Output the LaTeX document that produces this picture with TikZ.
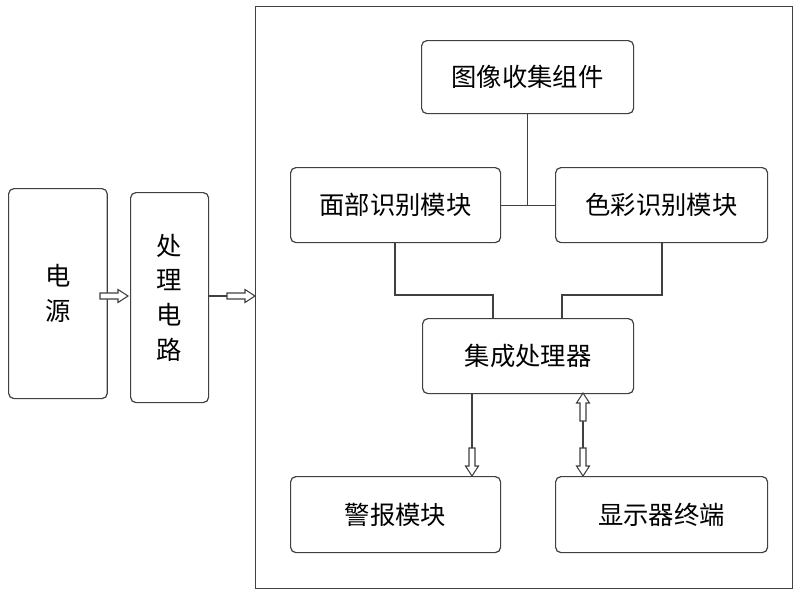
\documentclass[tikz,border=0pt]{standalone}
\usepackage{fontspec}
\newfontfamily\cjk{Noto Sans CJK SC}
\begin{document}
\begin{tikzpicture}[x=0.75pt,y=-0.75pt,
  box/.style={draw=black!75,line width=0.9pt,rounded corners=4pt,anchor=north west,inner sep=0pt,font=\cjk\fontsize{19}{26}\selectfont,align=center},
  ln/.style={draw=black!75,line width=0.9pt},
  harrow/.pic={\draw[black!75,line width=0.8pt,fill=white] (0,-3)--(18,-3)--(18,-6.5)--(28,0)--(18,6.5)--(18,3)--(0,3)--cycle;}]
\useasboundingbox (0,0) rectangle (800,594);
\node[box] (pw) at (8,188) [minimum width=74pt*0.75/0.75*0.75/0.75,text width=74*0.75pt,minimum height=210*0.75pt] {电\\源};
\node[box] (pc) at (130,192) [text width=78*0.75pt,minimum height=210*0.75pt] {处\\理\\电\\路};
\node[draw=black!75,line width=0.9pt,anchor=north west,minimum width=537*0.75pt,minimum height=582*0.75pt,inner sep=0pt] (fr) at (255,6) {};
\node[box] (img) at (421,40) [text width=212*0.75pt,minimum height=73*0.75pt] {图像收集组件};
\node[box] (face) at (290,167) [text width=210*0.75pt,minimum height=75*0.75pt] {面部识别模块};
\node[box] (col) at (555,167) [text width=212*0.75pt,minimum height=75*0.75pt] {色彩识别模块};
\node[box] (cpu) at (422,318) [text width=211*0.75pt,minimum height=75*0.75pt] {集成处理器};
\node[box] (al) at (290,476) [text width=210*0.75pt,minimum height=76*0.75pt] {警报模块};
\node[box] (dp) at (555,476) [text width=212*0.75pt,minimum height=76*0.75pt] {显示器终端};
\draw[ln] (face.east) -- (col.west);
\draw[ln] (img.south) -- (img.south |- face.east);
\draw[ln] (face.south -| 395,0) |- (493,295) -- (cpu.north -| 493,0);
\draw[ln] (col.south -| 662,0) |- (562,295) -- (cpu.north -| 562,0);
\coordinate (a1) at (100,296); \coordinate (a2) at (227,296);
\draw[ln] (pw.east |- a1) -- (a1);
\pic at (a1) {harrow};
\draw[ln] (pc.east |- a2) -- (a2);
\pic at (a2) {harrow};
\coordinate (a3) at (472,448);
\draw[ln] (cpu.south -| a3) -- (a3);
\pic[rotate=-90] at (a3) {harrow};
\coordinate (a4) at (583,448); \coordinate (a5) at (583,421);
\draw[ln] (a5) -- (a4);
\pic[rotate=-90] at (a4) {harrow};
\pic[rotate=90] at (a5) {harrow};
\end{tikzpicture}
\end{document}
